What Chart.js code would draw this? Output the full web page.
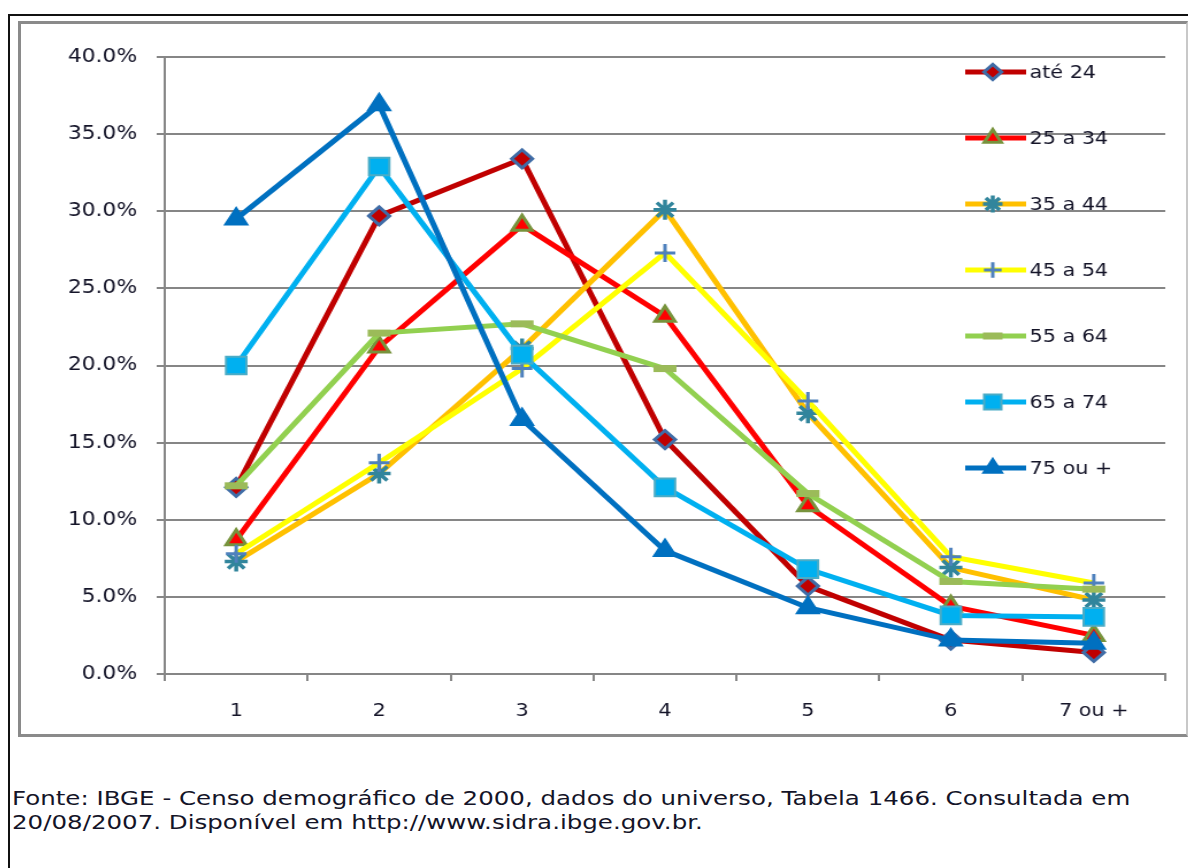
<!DOCTYPE html>
<html>
<head>
<meta charset="utf-8">
<script src="https://cdn.jsdelivr.net/npm/chart.js"></script>
<style>
  body { margin: 0; background: #fff; width: 1188px; height: 868px; overflow: hidden; position: relative; font-family: "DejaVu Sans", Verdana, sans-serif; }
  #frame { position: absolute; left: 8px; top: 14px; width: 1200px; height: 900px; border-left: 2px solid #111; border-top: 2px solid #111; }
  #box { position: absolute; left: 18px; top: 21px; width: 1165px; height: 710px; border: 3px solid #8a8a8a; border-right: 2px solid #c8c8c8; }
  /* the source picture is stretched sideways, so the canvas is too */
  #wrap { position: absolute; left: 21px; top: 24px; width: 1012px; height: 710px; transform: scaleX(1.15); transform-origin: 0 0; }
  #fonte { position: absolute; left: 12px; top: 786px; font-size: 19px; line-height: 24px; color: #141428; white-space: nowrap; transform: scaleX(1.29); transform-origin: 0 0; }
</style>
</head>
<body>
<div id="frame"></div>
<div id="box"></div>
<div id="wrap"><canvas id="chart" width="1012" height="710"></canvas></div>
<div id="fonte">Fonte: IBGE - Censo demográfico de 2000, dados do universo, Tabela 1466. Consultada em<br>20/08/2007. Disponível em http://www.sidra.ibge.gov.br.</div>
<script>
const categorias = ['1', '2', '3', '4', '5', '6', '7 ou +'];
const faixas = ['até 24', '25 a 34', '35 a 44', '45 a 54', '55 a 64', '65 a 74', '75 ou +'];

// percentuais
const ate24   = [12.1, 29.7, 33.4, 15.2, 5.7, 2.2, 1.4];
const de25a34 = [8.7, 21.2, 29.1, 23.2, 10.9, 4.4, 2.5];
const de35a44 = [7.3, 13.0, 21.1, 30.1, 16.9, 6.9, 4.8];
const de45a54 = [7.8, 13.7, 19.8, 27.3, 17.7, 7.6, 5.9];
const de55a64 = [12.2, 22.1, 22.7, 19.8, 11.7, 6.0, 5.5];
const de65a74 = [20.0, 32.9, 20.7, 12.1, 6.8, 3.8, 3.7];
const de75    = [29.5, 36.9, 16.5, 8.0, 4.3, 2.2, 2.0];

const valores = [ate24, de25a34, de35a44, de45a54, de55a64, de65a74, de75];

const estilos = [
    { line: '#C00000', bg: '#C00000', border: '#3F6CA6', point: 'rectRot', r: 9, bw: 3 },
    { line: '#FF0000', bg: '#FF0000', border: '#77933C', point: 'triangle', r: 10, bw: 3 },
    { line: '#FFC000', bg: '#31859C', border: '#31859C', point: 'star', r: 10, bw: 3.5 },
    { line: '#FFFF00', bg: '#4F81BD', border: '#4F81BD', point: 'cross', r: 9, bw: 3 },
    { line: '#92D050', bg: '#9BBB59', border: '#9BBB59', point: 'line', r: 10, bw: 7 },
    { line: '#00B0F0', bg: '#00B0F0', border: '#4BACC6', point: 'rect', r: 12.5, bw: 2 },
    { line: '#0070C0', bg: '#0070C0', border: '#0070C0', point: 'triangle', r: 11, bw: 2 }
];

const datasets = faixas.map((nome, i) => ({
    label: nome,
    data: valores[i],
    borderColor: estilos[i].line,
    borderWidth: 5,
    backgroundColor: estilos[i].bg,
    pointStyle: estilos[i].point,
    pointRadius: estilos[i].r,
    pointBackgroundColor: estilos[i].bg,
    pointBorderColor: estilos[i].border,
    pointBorderWidth: estilos[i].bw,
    tension: 0,
    order: 7 - i
}));

// legenda desenhada a mao, sobre a area do grafico
const legendaPlugin = {
    id: 'legenda',
    afterDatasetsDraw(chart) {
        const ctx = chart.ctx;
        ctx.save();
        chart.data.datasets.forEach((ds, i) => {
            const y = 48 + i * 66;
            ctx.strokeStyle = ds.borderColor;
            ctx.lineWidth = 5;
            ctx.lineCap = 'butt';
            ctx.beginPath();
            ctx.moveTo(821, y);
            ctx.lineTo(874, y);
            ctx.stroke();
            ctx.fillStyle = ds.pointBackgroundColor;
            ctx.strokeStyle = ds.pointBorderColor;
            ctx.lineWidth = ds.pointBorderWidth;
            Chart.helpers.drawPoint(ctx, {
                pointStyle: ds.pointStyle,
                radius: ds.pointRadius * 0.85,
                rotation: 0,
                borderWidth: ds.pointBorderWidth
            }, 845, y);
            ctx.fillStyle = '#141428';
            ctx.font = '18px "DejaVu Sans"';
            ctx.textBaseline = 'middle';
            ctx.textAlign = 'left';
            ctx.fillText(ds.label, 877, y + 1);
        });
        ctx.restore();
    }
};

new Chart(document.getElementById('chart').getContext('2d'), {
    type: 'line',
    data: { labels: categorias, datasets: datasets },
    options: {
        responsive: false,
        animation: false,
        layout: { padding: { top: 33, right: 13, left: 0, bottom: 0 } },
        plugins: {
            legend: { display: false },
            tooltip: { enabled: false }
        },
        scales: {
            x: {
                offset: true,
                afterFit: (s) => { s.height = 60; s.paddingLeft = 0; s.paddingRight = 0; },
                grid: { offset: true, drawOnChartArea: false, drawTicks: true, tickLength: 7, color: '#868686', lineWidth: 2 },
                border: { display: true, color: '#868686', width: 2 },
                ticks: { color: '#141428', font: { family: 'DejaVu Sans', size: 18 }, padding: 20, maxRotation: 0 }
            },
            y: {
                min: 0,
                max: 40,
                afterFit: (s) => { s.width = 125; },
                grid: { color: '#868686', lineWidth: 2, tickLength: 7 },
                border: { display: true, color: '#868686', width: 2 },
                ticks: {
                    stepSize: 5,
                    color: '#141428',
                    font: { family: 'DejaVu Sans', size: 19 },
                    padding: 17,
                    callback: (v) => v.toFixed(1) + '%'
                }
            }
        }
    },
    plugins: [legendaPlugin]
});
</script>
</body>
</html>
